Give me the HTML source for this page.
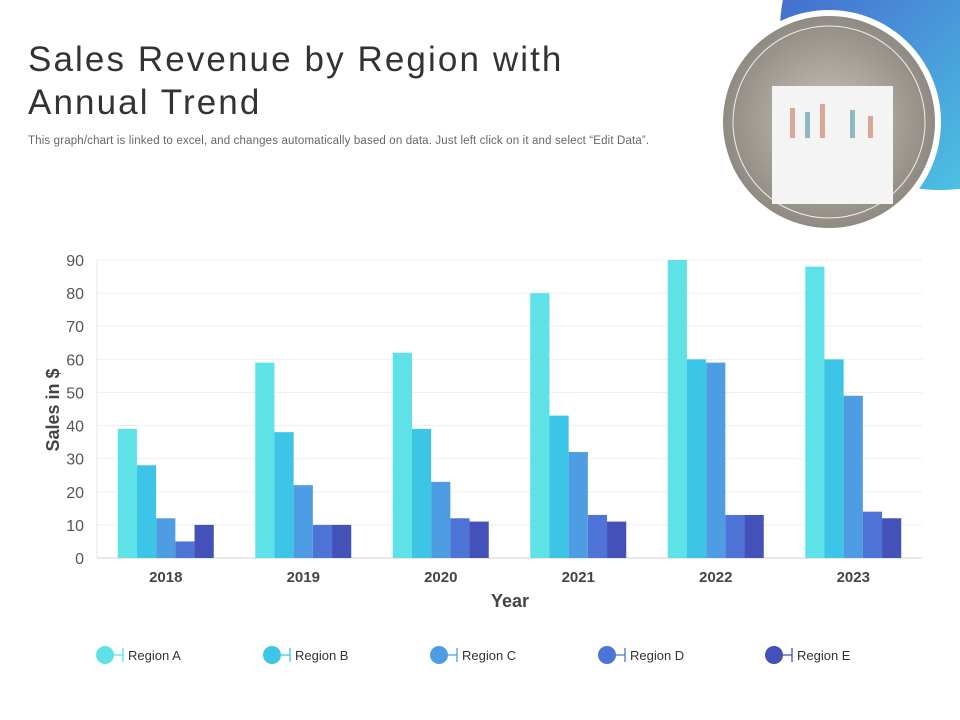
<!DOCTYPE html>
<html><head><meta charset="utf-8"><style>
body{margin:0;width:960px;height:720px;overflow:hidden;background:#fff;font-family:"Liberation Sans",sans-serif;position:relative}
h1{position:absolute;left:28px;top:38px;margin:0;font-weight:normal;font-size:35px;line-height:43px;color:#333;letter-spacing:2.1px}
.sub{position:absolute;left:28px;top:135px;font-size:11.5px;color:#666;letter-spacing:0.15px}
</style></head><body>
<svg width="960" height="720" style="position:absolute;left:0;top:0">
<defs><linearGradient id="g" x1="0" y1="0" x2="1" y2="1"><stop offset="0" stop-color="#4351c9"/><stop offset="1" stop-color="#4fe0ea"/></linearGradient>
<radialGradient id="p" cx="0.5" cy="0.5" r="0.5"><stop offset="0" stop-color="#c9c4bc"/><stop offset="1" stop-color="#8f8a82"/></radialGradient></defs>
<circle cx="940" cy="30" r="160" fill="url(#g)"/>
<circle cx="829" cy="122" r="112" fill="#fff"/>
<circle cx="829" cy="122" r="106" fill="url(#p)"/>
<circle cx="829" cy="122" r="96" fill="none" stroke="#eee" stroke-width="1"/>
<rect x="772" y="86" width="121" height="118" fill="#f4f4f4"/>
<rect x="790" y="108" width="5" height="30" fill="#d9a79a"/><rect x="805" y="112" width="5" height="26" fill="#8fb9c0"/><rect x="820" y="104" width="5" height="34" fill="#d9a79a"/><rect x="850" y="110" width="5" height="28" fill="#8fb9c0"/><rect x="868" y="116" width="5" height="22" fill="#d9a79a"/>
</svg>
<h1>Sales Revenue by Region with<br>Annual Trend</h1>
<div class="sub">This graph/chart is linked to excel, and changes automatically based on data. Just left click on it and select “Edit Data”.</div>
<svg id="chart" width="960" height="720" style="position:absolute;left:0;top:0"></svg>
<script>
const categories=["2018","2019","2020","2021","2022","2023"];
const seriesNames=["Region A","Region B","Region C","Region D","Region E"];
const regionA=[39,59,62,80,90,88];
const regionB=[28,38,39,43,60,60];
const regionC=[12,22,23,32,59,49];
const regionD=[5,10,12,13,13,14];
const regionE=[10,10,11,11,13,12];
const yTicks=[0,10,20,30,40,50,60,70,80,90];
const series=[regionA,regionB,regionC,regionD,regionE];
const colors=["#5ee2e8","#3cc5e6","#4e9de2","#4d74d6","#4451b8"];
const NS="http://www.w3.org/2000/svg";
const svg=document.getElementById("chart");
const X0=97,X1=922,Y0=558,Y1=260,YMAX=90;
const y=v=>Y0-(v/YMAX)*(Y0-Y1);
const gw=(X1-X0)/categories.length;
const bw=19.2;
const xc=i=>X0+gw*(i+0.5);
function mk(t,a,txt){const e=document.createElementNS(NS,t);for(const k in a)e.setAttribute(k,a[k]);if(txt!=null)e.textContent=txt;svg.appendChild(e);return e;}
yTicks.forEach(t=>{
 const l=mk("line",{x1:X0,x2:X1,y1:y(t),y2:y(t),stroke:t===0?"#d0d0d0":"#efefef","stroke-width":1});
 
 
 const tx=mk("text",{x:84,y:y(t)+6,"text-anchor":"end","font-size":"16",fill:"#555"},t);
 
 
});
const ax=mk("line",{x1:X0,x2:X0,y1:Y1,y2:Y0,stroke:"#e4e4e4"});


categories.forEach((c,i)=>{
 series.forEach((s,j)=>{
  const r=mk("rect",{x:xc(i)-2.5*bw+j*bw,y:y(s[i]),width:bw,height:Y0-y(s[i]),fill:colors[j]});
  
  
 });
 const t=mk("text",{x:xc(i),y:582,"text-anchor":"middle","font-size":"15","font-weight":"bold",fill:"#444"},c);
 
 
});
const xt=mk("text",{x:510,y:607,"text-anchor":"middle","font-size":"18","font-weight":"bold",fill:"#444"},"Year");


const yt=mk("text",{x:0,y:0,transform:"translate(59,410) rotate(-90)","text-anchor":"middle","font-size":"18","font-weight":"bold",fill:"#444"},"Sales in $");


const lx=[105,272,439,607,774];
seriesNames.forEach((n,j)=>{
 const g=document.createElementNS(NS,"g");svg.appendChild(g);
 
 
 const c=document.createElementNS(NS,"circle");
 c.setAttribute("cx",lx[j]);c.setAttribute("cy",655);c.setAttribute("r",9);c.setAttribute("fill",colors[j]);g.appendChild(c);
 const l=document.createElementNS(NS,"path");
 l.setAttribute("d",`M${lx[j]} 655H${lx[j]+18}M${lx[j]+18} 648V662`);l.setAttribute("stroke",colors[j]);l.setAttribute("stroke-width","1.3");g.appendChild(l);
 const t=document.createElementNS(NS,"text");
 t.setAttribute("x",lx[j]+23);t.setAttribute("y",660);t.setAttribute("font-size","13");t.setAttribute("fill","#333");t.textContent=n;g.appendChild(t);
});
</script>
</body></html>
